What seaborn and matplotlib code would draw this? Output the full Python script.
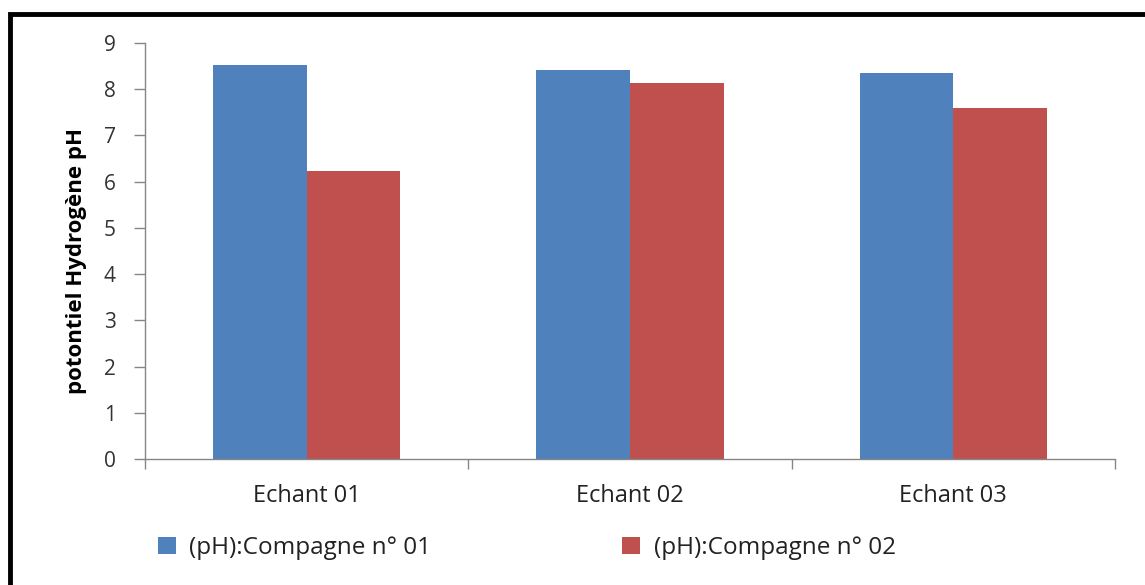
import matplotlib
matplotlib.use("Agg")
import matplotlib.pyplot as plt
from matplotlib.patches import Rectangle
import seaborn as sns
import pandas as pd

samples = ["Echant 01", "Echant 02", "Echant 03"]
campaigns = ["(pH):Compagne n° 01", "(pH):Compagne n° 02"]
ph_campaign1 = [8.53, 8.41, 8.36]
ph_campaign2 = [6.22, 8.14, 7.60]
y_ticks = list(range(0, 10))

df = pd.DataFrame({
    "sample": samples * 2,
    "campaign": [campaigns[0]] * 3 + [campaigns[1]] * 3,
    "ph": ph_campaign1 + ph_campaign2,
})

sns.set_theme(style="white")
plt.rcParams["font.family"] = ["Open Sans", "DejaVu Sans"]

fig = plt.figure(figsize=(11.45, 5.85), dpi=100)
ax = fig.add_axes([0.1266, 0.2154, 0.8472, 0.7111])

palette = {campaigns[0]: "#4f81bd", campaigns[1]: "#c0504d"}
sns.barplot(data=df, x="sample", y="ph", hue="campaign", palette=palette,
            width=0.58, saturation=1, linewidth=0, ax=ax, legend=True)

ax.set_xlim(-0.5, 2.5)
ax.set_ylim(0, 9)
ax.set_yticks(y_ticks)
ax.set_xlabel("")
ax.set_ylabel("potontiel Hydrogène pH", fontsize=16, fontweight="bold",
              color="black")
ax.yaxis.set_label_coords(-0.06, 0.475)

gray = "#868686"
for side in ["top", "right"]:
    ax.spines[side].set_visible(False)
for side in ["left", "bottom"]:
    ax.spines[side].set_color(gray)
    ax.spines[side].set_linewidth(1.0)

ax.tick_params(axis="y", which="major", left=True, length=8, width=1,
               color=gray, labelsize=15, labelcolor="#333333", pad=13)
ax.tick_params(axis="x", which="major", bottom=False, labelsize=17,
               labelcolor="#222222", pad=12)
# category boundary ticks on the x axis
ax.set_xticks([-0.5, 0.5, 1.5, 2.5], minor=True)
ax.tick_params(axis="x", which="minor", bottom=True, length=7, width=1,
               color=gray, direction="out")

leg = ax.legend(loc="upper left", bbox_to_anchor=(0.013, -0.185), ncol=2,
                frameon=False, fontsize=17.5, handlelength=0.75, handleheight=0.75,
                handletextpad=0.55, columnspacing=7.85, borderaxespad=0,
                borderpad=0, labelcolor="#222222")

# outer frame around the chart
fig.patches.append(Rectangle((0.0087, -0.05), 1.1, 1.026, transform=fig.transFigure,
                             fill=False, edgecolor="black", linewidth=3.5))

fig.savefig("out.png", dpi=100)
